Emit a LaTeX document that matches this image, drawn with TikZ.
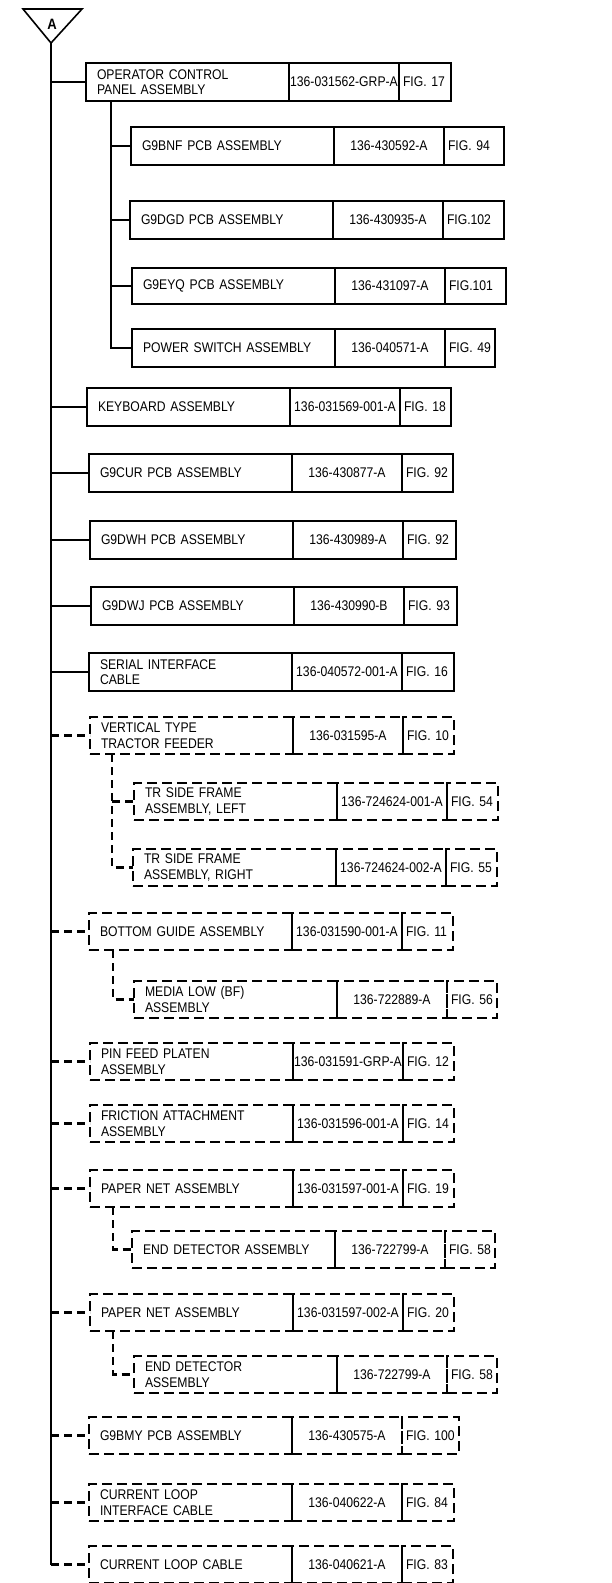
\documentclass[tikz,border=0pt]{standalone}
\usepackage{fontspec}
\setmainfont{Liberation Sans}[FakeStretch=0.87]
\usepackage{tikz}
\usetikzlibrary{positioning}

\tikzset{
  cell/.style={draw, line width=1.3pt, minimum height=38pt, outer sep=0pt, inner ysep=0pt,
    font=\fontsize{14}{15.5}\selectfont},
  partdesc/.style={cell, text width=181pt, inner xsep=11pt, align=left},
  partno/.style={cell, text width=108pt, inner xsep=1pt, align=center},
  partfig/.style={cell, text width=#1, inner xsep=4pt, align=left},
  optbox/.style={dash pattern=on 10pt off 5pt, minimum height=37pt},
  trunk/.style={line width=2.8pt},
  dtrunk/.style={trunk, dash pattern=on 8pt off 5pt},
}

% one row of the list: [extra style] name, top left, text, part number, figure, figure width
\newcommand{\partrow}[7][]{%
  \node[partdesc,#1,anchor=north west] (#2) at (#3) {#4};
  \node[partno,#1,right=0pt of #2] (#2-no) {\mbox{#5}};
  \node[partfig=#7,#1,right=0pt of #2-no] (#2-fig) {\mbox{#6}};
}

\begin{document}
\begin{tikzpicture}[x=1pt, y=-1pt]
  \useasboundingbox (0,0) rectangle (612,1583);

  % tag triangle
  \draw[line width=1.6pt] (23,9) -- (82,9) -- (51,43) -- cycle;
  \node[font=\fontsize{15}{15}\selectfont\bfseries] (tag) at (52,24) {A};
  \coordinate (apex) at (51,43);

  % standard parts
  \partrow{ocp}{86,63}{OPERATOR CONTROL\\PANEL ASSEMBLY}{136-031562-GRP-A}{FIG. 17}{44pt}
  \partrow{bnf}{131,127}{G9BNF PCB ASSEMBLY}{136-430592-A}{FIG. 94}{52pt}
  \partrow{dgd}{130,201}{G9DGD PCB ASSEMBLY}{136-430935-A}{FIG.102}{53pt}
  \partrow[minimum height=36pt]{eyq}{132,268}{G9EYQ PCB ASSEMBLY}{136-431097-A}{FIG.101}{53pt}
  \partrow{pwr}{132,329}{POWER SWITCH ASSEMBLY}{136-040571-A}{FIG. 49}{42pt}
  \partrow{kbd}{87,388}{KEYBOARD ASSEMBLY}{136-031569-001-A}{FIG. 18}{43pt}
  \partrow{cur}{89,454}{G9CUR PCB ASSEMBLY}{136-430877-A}{FIG. 92}{43pt}
  \partrow{dwh}{90,521}{G9DWH PCB ASSEMBLY}{136-430989-A}{FIG. 92}{45pt}
  \partrow{dwj}{91,587}{G9DWJ PCB ASSEMBLY}{136-430990-B}{FIG. 93}{45pt}
  \partrow{ser}{89,653}{SERIAL INTERFACE\\CABLE}{136-040572-001-A}{FIG. 16}{44pt}

  % options
  \partrow[optbox]{vtf}{90,717}{VERTICAL TYPE\\TRACTOR FEEDER}{136-031595-A}{FIG. 10}{43pt}
  \partrow[optbox]{trl}{134,783}{TR SIDE FRAME\\ASSEMBLY, LEFT}{136-724624-001-A}{FIG. 54}{43pt}
  \partrow[optbox]{trr}{133,849}{TR SIDE FRAME\\ASSEMBLY, RIGHT}{136-724624-002-A}{FIG. 55}{43pt}
  \partrow[optbox]{bgd}{89,913}{BOTTOM GUIDE ASSEMBLY}{136-031590-001-A}{FIG. 11}{43pt}
  \partrow[optbox]{mlb}{134,981}{MEDIA LOW (BF)\\ASSEMBLY}{136-722889-A}{FIG. 56}{42pt}
  \partrow[optbox]{pfp}{90,1043}{PIN FEED PLATEN\\ASSEMBLY}{136-031591-GRP-A}{FIG. 12}{43pt}
  \partrow[optbox]{fri}{90,1105}{FRICTION ATTACHMENT\\ASSEMBLY}{136-031596-001-A}{FIG. 14}{43pt}
  \partrow[optbox]{pna}{90,1170}{PAPER NET ASSEMBLY}{136-031597-001-A}{FIG. 19}{43pt}
  \partrow[optbox]{eda}{132,1231}{END DETECTOR ASSEMBLY}{136-722799-A}{FIG. 58}{42pt}
  \partrow[optbox]{pnb}{90,1294}{PAPER NET ASSEMBLY}{136-031597-002-A}{FIG. 20}{43pt}
  \partrow[optbox]{edb}{134,1356}{END DETECTOR\\ASSEMBLY}{136-722799-A}{FIG. 58}{42pt}
  \partrow[optbox]{bmy}{89,1417}{G9BMY PCB ASSEMBLY}{136-430575-A}{FIG. 100}{49pt}
  \partrow[optbox]{cli}{89,1484}{CURRENT LOOP\\INTERFACE CABLE}{136-040622-A}{FIG. 84}{44pt}
  \partrow[optbox]{clc}{89,1546}{CURRENT LOOP CABLE}{136-040621-A}{FIG. 83}{43pt}

  % main trunk
  \draw[trunk] (apex) -- (apex |- clc.west);
  \foreach \r in {ocp,kbd,cur,dwh,dwj,ser}
    \draw[trunk] (apex |- \r.west) -- (\r.west);
  \foreach \r in {vtf,bgd,pfp,fri,pna,pnb,bmy,cli,clc}
    \draw[dtrunk] (apex |- \r.west) -- (\r.west);

  % sub trunks
  \coordinate (ocp-s) at ([xshift=25pt]ocp.south west);
  \draw[trunk] (ocp-s) |- (pwr.west);
  \foreach \r in {bnf,dgd,eyq}
    \draw[trunk] (ocp-s |- \r.west) -- (\r.west);
  \coordinate (vtf-s) at ([xshift=22pt]vtf.south west);
  \draw[dtrunk] (vtf-s) |- (trr.west);
  \draw[dtrunk] (vtf-s |- trl.west) -- (trl.west);
  \draw[dtrunk] ([xshift=24pt]bgd.south west) |- (mlb.west);
  \draw[dtrunk] ([xshift=23pt]pna.south west) |- (eda.west);
  \draw[dtrunk] ([xshift=23pt]pnb.south west) |- (edb.west);
\end{tikzpicture}
\end{document}
